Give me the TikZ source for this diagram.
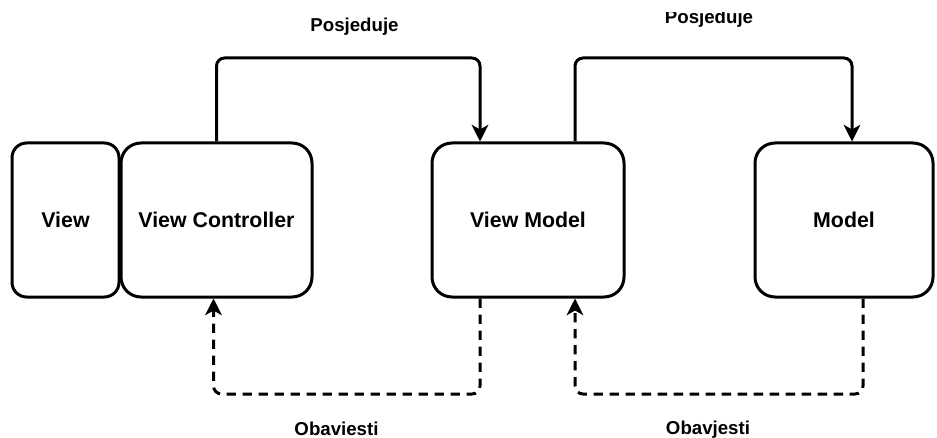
\documentclass[tikz,border=0pt]{standalone}
\usepackage{fontspec}
\setmainfont{Liberation Sans}
\usetikzlibrary{arrows.meta,calc}
\begin{document}
\begin{tikzpicture}[x=0.75pt,y=-0.75pt,
  box/.style={draw=black,line width=2.25pt,fill=white,rounded corners=15pt,
    inner sep=0pt,minimum height=154*0.75pt,font=\fontsize{16}{19}\selectfont\bfseries},
  lbl/.style={inner sep=0pt,anchor=base,font=\fontsize{14}{17}\selectfont\bfseries},
  owns/.style={draw=black,line width=2.25pt,rounded corners=6pt,
    -{Stealth[length=12.5pt,width=12.5pt,inset=3.5pt]}},
  notify/.style={owns,dash pattern=on 7pt off 5pt}]
\useasboundingbox (0,0) rectangle (937,438);
\node[box,rounded corners=11pt,minimum width=107*0.75pt] (v) at (65.5,220) {View};
\node[box,minimum width=191*0.75pt] (vc) at (216.5,220) {View Controller};
\node[box,minimum width=192*0.75pt] (vm) at (528,220) {View Model};
\node[box,minimum width=178*0.75pt] (m) at (844,220) {Model};
\coordinate (t1) at (0,58);
\coordinate (b1) at (0,394);
\coordinate (vmtl) at ($(vm.north)+(-48,0)$);
\coordinate (vmtr) at ($(vm.north)+(47,0)$);
\coordinate (mt) at ($(m.north)+(8,0)$);
\coordinate (vmbl) at ($(vm.south)+(-48,0)$);
\coordinate (vmbr) at ($(vm.south)+(47,0)$);
\coordinate (vcb) at ($(vc.south)+(-3,0)$);
\coordinate (mb) at ($(m.south)+(19,0)$);
\draw[owns] (vc.north) |- (t1 -| vmtl) -- (vmtl);
\draw[owns] (vmtr) |- (t1 -| mt) -- (mt);
\draw[notify] (vmbl) |- (b1 -| vcb) -- (vcb);
\draw[notify] (mb) |- (b1 -| vmbr) -- (vmbr);
\node[lbl] (p1) at (354.5,32) {Posjeduje};
\begin{scope}
\clip (0,13) rectangle (937,60);
\node[lbl] (p2) at (709,24) {Posjeduje};
\end{scope}
\node[lbl] (o1) at (336.5,435) {Obaviesti};
\node[lbl] (o2) at (708,434) {Obavjesti};
\end{tikzpicture}
\end{document}
